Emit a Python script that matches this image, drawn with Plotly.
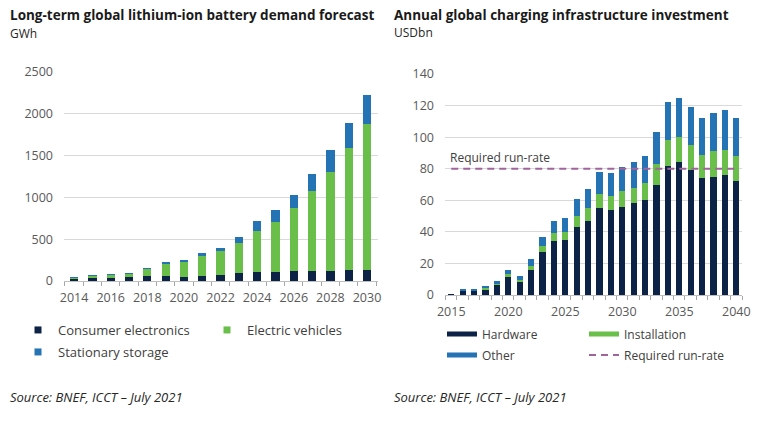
import plotly.graph_objects as go

# --- left chart: battery demand (GWh) ---
years_a = list(range(2014, 2031))
consumer = [28, 37, 37, 49, 57, 61, 49, 61, 69, 100, 110, 110, 115, 120, 125, 130, 135]
ev = [10, 26, 42, 43, 90, 147, 187, 248, 293, 359, 488, 600, 762, 953, 1179, 1457, 1747]
stationary = [3, 2, 2, 2, 4, 20, 16, 21, 37, 67, 124, 139, 148, 207, 259, 303, 347]

# --- right chart: charging infrastructure investment (USDbn) ---
years_b = list(range(2015, 2041))
hardware = [0.6, 2.8, 2.8, 3.4, 6.2, 11.6, 8.6, 16.1, 27, 34, 35, 43, 47, 55, 54, 56,
            58, 60, 70, 82, 84, 79, 74, 75, 76, 72]
installation = [0, 0.3, 0.3, 1.3, 1.3, 1.9, 1.1, 2.2, 4, 5, 5, 7, 8, 9, 9, 10,
                10, 11, 13, 16, 16, 16, 15, 16, 16, 16]
other = [0, 0.6, 0.6, 1.1, 1.1, 2.4, 2.3, 4.7, 6, 8, 9, 11, 12, 14, 14, 15,
         16, 17, 20, 24, 25, 24, 23, 24, 25, 24]
run_rate = 80

NAVY = "#0d2247"
GREEN = "#6abf4b"
BLUE = "#2473b5"
RUNRATE = "#a0649a"
GRID = "#d9d9d9"
TICK = "#595959"
FONT = "Open Sans"

fig = go.Figure()

# stacked bars
for vals, col in [(consumer, NAVY), (ev, GREEN), (stationary, BLUE)]:
    fig.add_trace(go.Bar(x=years_a, y=vals, marker=dict(color=col, line=dict(width=0)),
                         width=0.45, showlegend=False, xaxis="x", yaxis="y"))

for vals, col in [(hardware, NAVY), (installation, GREEN), (other, BLUE)]:
    fig.add_trace(go.Bar(x=years_b, y=vals, marker=dict(color=col, line=dict(width=0)),
                         width=0.55, showlegend=False, xaxis="x2", yaxis="y2"))

# legend entries (symbols only)
leg_a = [("Consumer electronics", NAVY, "legend"), ("Electric vehicles", GREEN, "legend"),
         ("Stationary storage", BLUE, "legend2")]
for name, col, lg in leg_a:
    fig.add_trace(go.Scatter(x=[None], y=[None], mode="markers", name=name, legend=lg,
                             marker=dict(symbol="square", size=7, color=col),
                             xaxis="x", yaxis="y"))
leg_b = [("Hardware", NAVY, "legend3"), ("Installation", GREEN, "legend3"),
         ("Other", BLUE, "legend4")]
for name, col, lg in leg_b:
    fig.add_trace(go.Scatter(x=[None], y=[None], mode="lines", name=name, legend=lg,
                             line=dict(color=col, width=5), xaxis="x2", yaxis="y2"))

fig.add_trace(go.Scatter(x=[years_b[0], years_b[-1]], y=[run_rate, run_rate], mode="lines",
                         line=dict(color=RUNRATE, width=2, dash="7px,5px"),
                         name="Required run-rate", legend="legend4",
                         xaxis="x2", yaxis="y2"))

W, H = 758, 425


def px(v):
    return v / W


def py(v):
    return 1 - v / H


tickfont = dict(family=FONT, size=12.5, color=TICK)

xa_common = dict(showgrid=False, zeroline=False, showline=True, linecolor="#bfbfbf",
                 linewidth=1, ticks="outside", ticklen=5, tickcolor="rgba(0,0,0,0)",
                 tickfont=tickfont, automargin=False)
ya_common = dict(showgrid=True, gridcolor=GRID, gridwidth=1, zeroline=False,
                 showline=False, ticks="", tickfont=tickfont, ticklabelstandoff=10,
                 automargin=False)

legend_common = dict(orientation="h", xanchor="left", yanchor="middle",
                     bgcolor="rgba(0,0,0,0)", entrywidthmode="pixels", itemclick=False,
                     traceorder="normal")
leg_left = dict(font=dict(family=FONT, size=13, color="#404040"), entrywidth=144, **legend_common)
leg_right = dict(font=dict(family=FONT, size=12, color="#404040"), entrywidth=97, **legend_common)

fig.update_layout(
    width=W, height=H,
    margin=dict(l=0, r=0, t=0, b=0, autoexpand=False),
    paper_bgcolor="white", plot_bgcolor="white",
    barmode="stack", bargap=0,
    font=dict(family=FONT),
    xaxis=dict(domain=[px(64), px(378)], range=[2013.45, 2030.6],
               tickvals=years_a[::2],
               minor=dict(tickvals=[y - 0.5 for y in years_a] + [years_a[-1] + 0.5],
                          ticks="outside", ticklen=4, tickcolor="#a6a6a6"),
               anchor="y", **xa_common),
    yaxis=dict(domain=[py(281), py(72)], range=[0, 2500], tickvals=[0, 500, 1000, 1500, 2000, 2500],
               anchor="x", **ya_common),
    xaxis2=dict(domain=[px(445), px(742)], range=[2014.45, 2040.5],
                tickvals=years_b[::5],
                minor=dict(tickvals=[y - 0.5 for y in years_b] + [years_b[-1] + 0.5],
                           ticks="outside", ticklen=4, tickcolor="#a6a6a6"),
                anchor="y2", **xa_common),
    yaxis2=dict(domain=[py(295), py(74)], range=[0, 140], tickvals=list(range(0, 141, 20)),
                anchor="x2", **ya_common),
    legend=dict(x=px(18), y=py(330), **leg_left),
    legend2=dict(x=px(18), y=py(352), **leg_left),
    legend3=dict(x=px(442), y=py(334), **leg_right),
    legend4=dict(x=px(442), y=py(355), **leg_right),
)

title_font = dict(family=FONT, size=13.5, color="#1a1a1a", weight="bold")
sub_font = dict(family=FONT, size=12, color="#262626")
src_font = dict(family=FONT, size=13, color="#262626", style="italic")

notes = [
    ("Long-term global lithium-ion battery demand forecast", 8, 15, title_font),
    ("GWh", 8, 34, sub_font),
    ("Annual global charging infrastructure investment", 392, 15, title_font),
    ("USDbn", 392, 33, sub_font),
    ("Source: BNEF, ICCT \u2013 July 2021", 8, 397, src_font),
    ("Source: BNEF, ICCT \u2013 July 2021", 392, 397, src_font),
]
for text, x, y, f in notes:
    fig.add_annotation(text=text, x=px(x), y=py(y), xref="paper", yref="paper",
                       xanchor="left", yanchor="middle", showarrow=False, font=f)

fig.add_annotation(text="Required run-rate", x=2014.7, y=86.8, xref="x2", yref="y2",
                   xanchor="left", yanchor="middle", showarrow=False,
                   font=dict(family=FONT, size=12, color="#404040"))

# drop the default page margin so the figure sits at the window's corner
fig.write_html("out.html", config={"displayModeBar": False},
               post_script="document.body.style.margin = '0';")
